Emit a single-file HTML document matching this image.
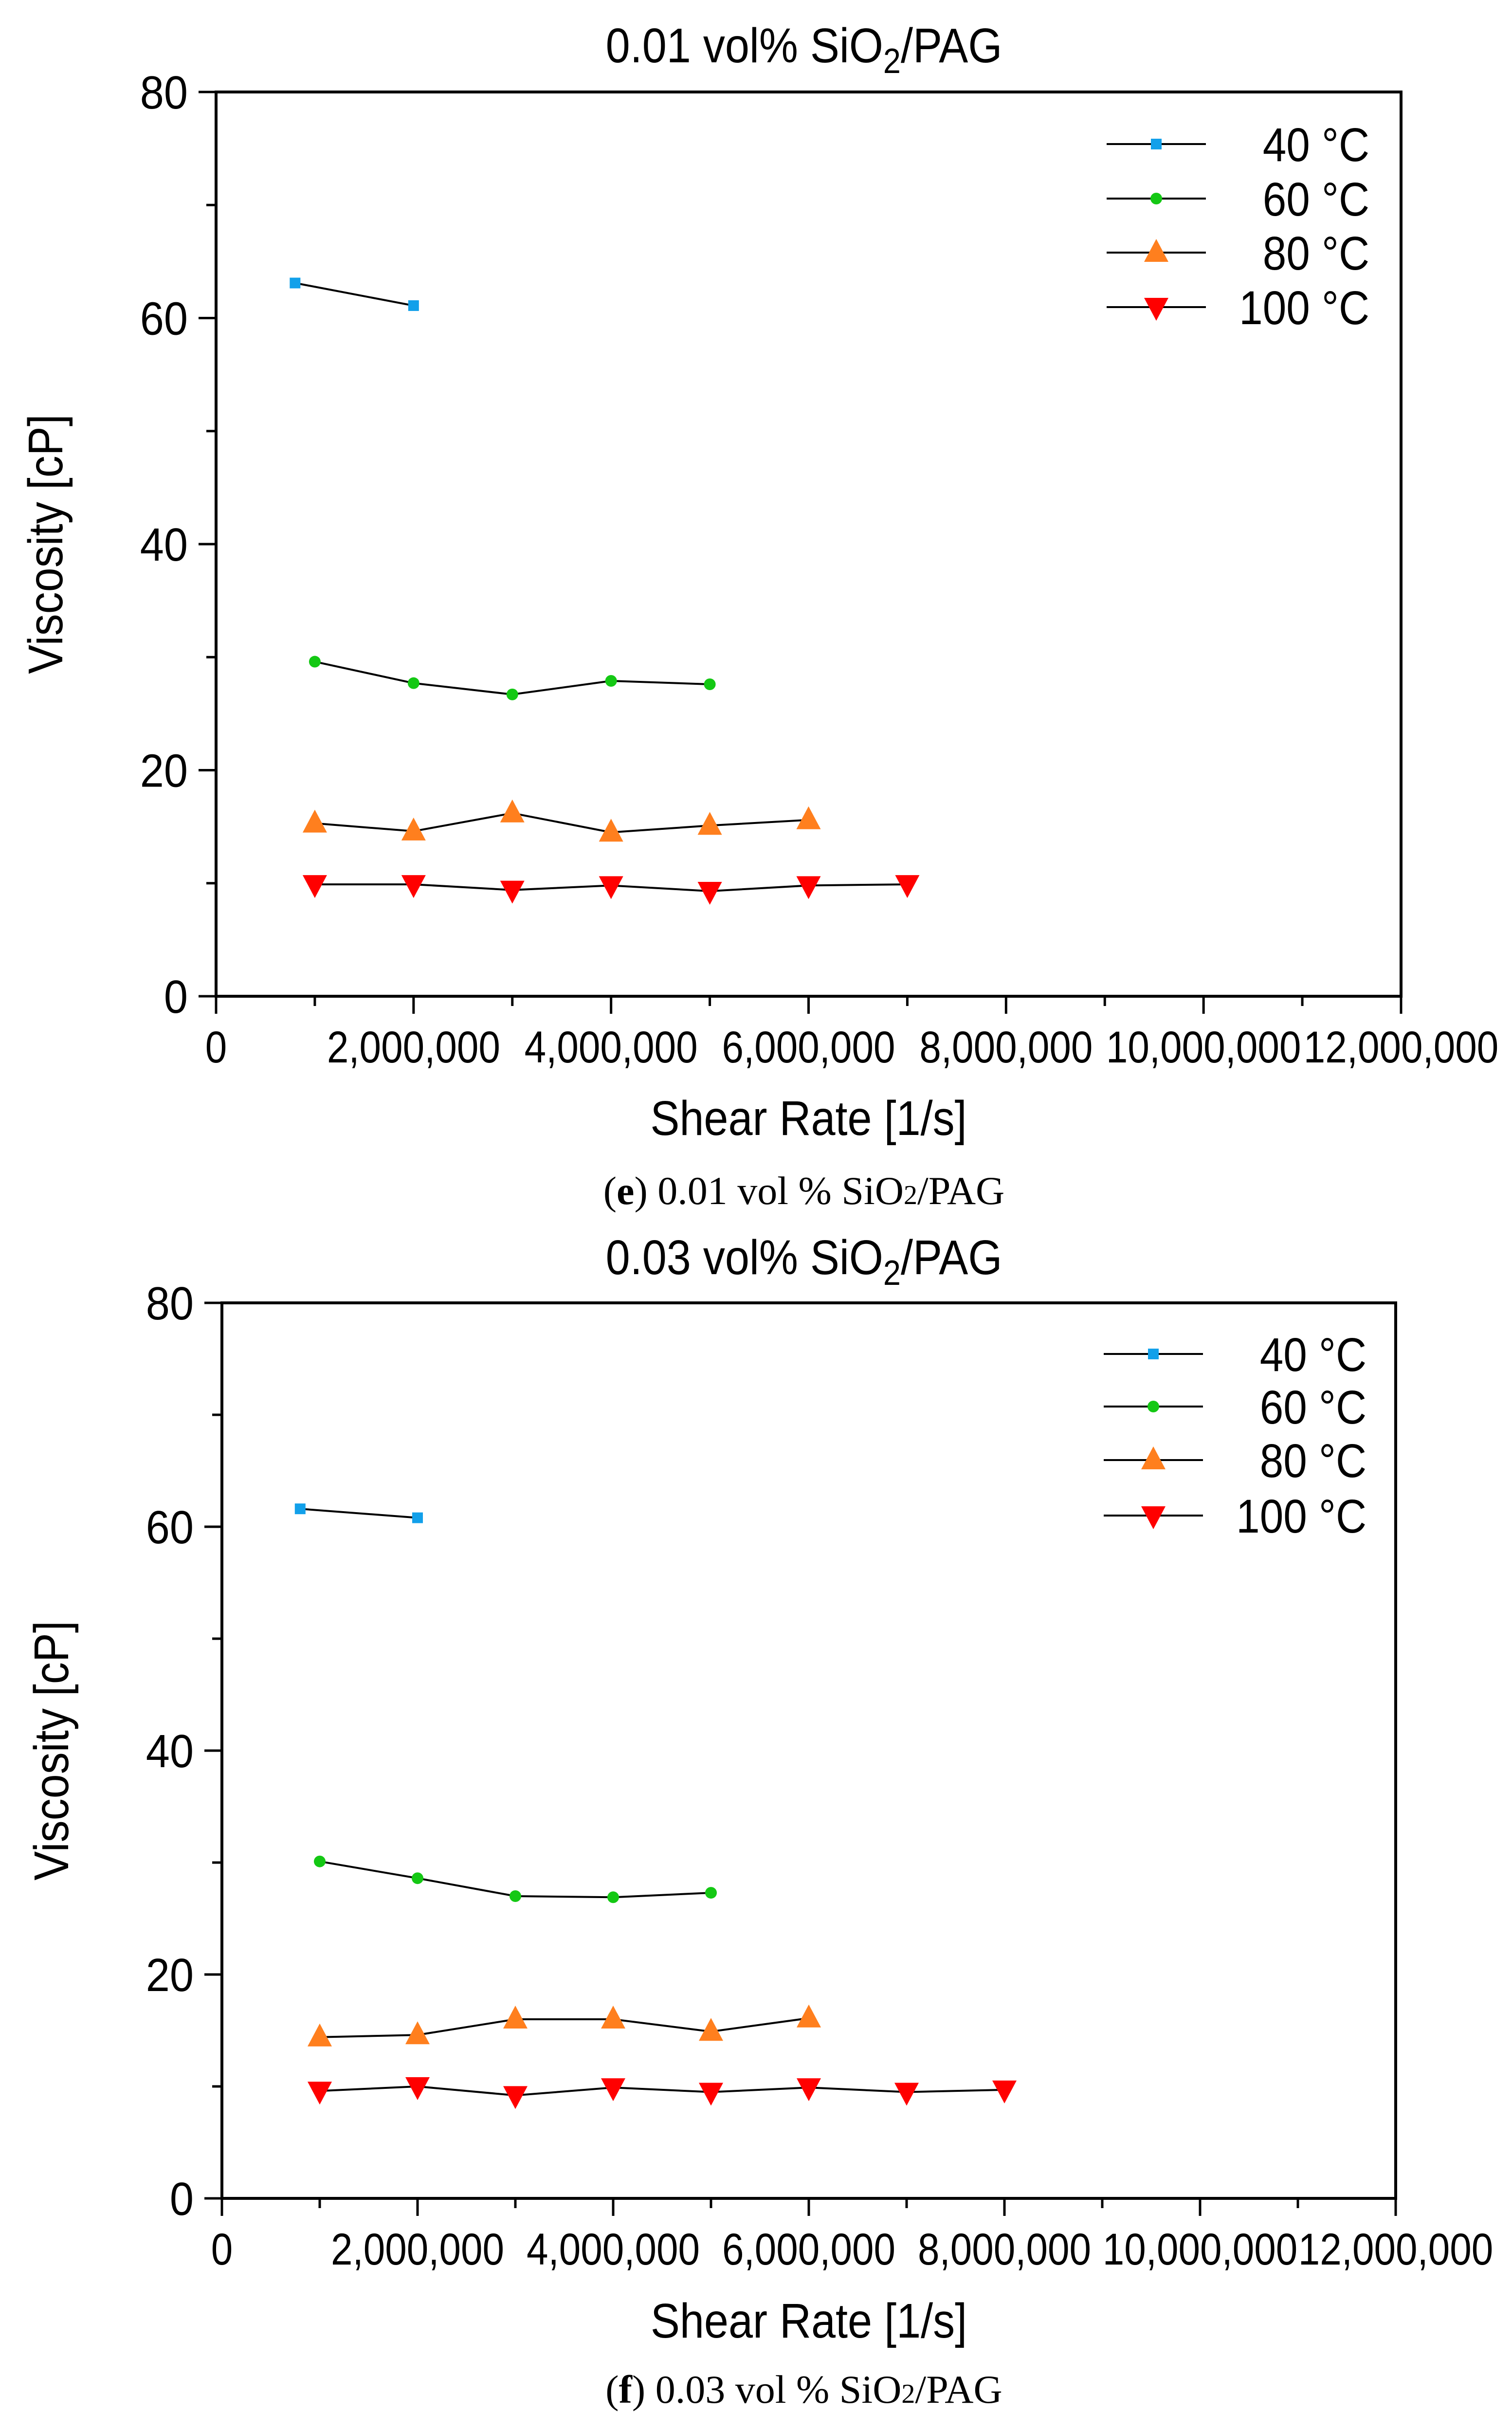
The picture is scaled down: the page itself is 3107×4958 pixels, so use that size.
<!DOCTYPE html>
<html><head><meta charset="utf-8"><style>
html,body{margin:0;padding:0;background:#fff;}
svg{display:block;}
text{font-family:"Liberation Sans",sans-serif;fill:#000;}
</style></head><body>
<svg id="fig" width="3107" height="4958" viewBox="0 0 3107 4958" xmlns="http://www.w3.org/2000/svg"></svg>
<script>
// Chart (e) data: 0.01 vol% SiO2/PAG
const eX40 = [0.8, 2.0];
const eY40 = [63.1, 61.1];
const eX60 = [1, 2, 3, 4, 5];
const eY60 = [29.6, 27.7, 26.7, 27.9, 27.6];
const eX80 = [1, 2, 3, 4, 5, 6];
const eY80 = [15.3, 14.6, 16.2, 14.5, 15.1, 15.6];
const eX100 = [1, 2, 3, 4, 5, 6, 7];
const eY100 = [9.9, 9.9, 9.4, 9.8, 9.3, 9.8, 9.9];
// Chart (f) data: 0.03 vol% SiO2/PAG
const fX40 = [0.8, 2.0];
const fY40 = [61.6, 60.8];
const fX60 = [1, 2, 3, 4, 5];
const fY60 = [30.1, 28.6, 27.0, 26.9, 27.3];
const fX80 = [1, 2, 3, 4, 5, 6];
const fY80 = [14.4, 14.6, 16.0, 16.0, 14.9, 16.1];
const fX100 = [1, 2, 3, 4, 5, 6, 7, 8];
const fY100 = [9.6, 10.0, 9.2, 9.9, 9.5, 9.9, 9.5, 9.7];
// axis ticks
const yTicks = [0, 20, 40, 60, 80];
const xTicks = [0, 2, 4, 6, 8, 10, 12];
const xTickLabels = ["0", "2,000,000", "4,000,000", "6,000,000", "8,000,000", "10,000,000", "12,000,000"];
const seriesNames = ["40 °C", "60 °C", "80 °C", "100 °C"];

const NS = "http://www.w3.org/2000/svg";
const fig = document.getElementById("fig");
function mk(tag, attrs, parent) {
  const el = document.createElementNS(NS, tag);
  for (const k in attrs) el.setAttribute(k, attrs[k]);
  (parent || fig).appendChild(el);
  return el;
}
function txt(parent, x, y, s, size, anchor, sx) {
  const t = mk("text", {x: 0, y: 0, "font-size": size, "text-anchor": anchor || "middle",
    transform: "translate(" + x + "," + y + ") scale(" + (sx || 0.9) + ",1)"}, parent);
  t.textContent = s;
  return t;
}
function marker(g, kind, cx, cy) {
  let m;
  if (kind === 0) m = mk("rect", {x: cx - 11, y: cy - 11, width: 22, height: 22, fill: "#12a0ea"}, g);
  else if (kind === 1) m = mk("circle", {cx: cx, cy: cy, r: 12, fill: "#14c814"}, g);
  else if (kind === 2) m = mk("polygon", {points: (cx - 25) + "," + (cy + 19) + " " + (cx + 25) + "," + (cy + 19) + " " + cx + "," + (cy - 28), fill: "#ff7f1e"}, g);
  else m = mk("polygon", {points: (cx - 25) + "," + (cy - 19) + " " + (cx + 25) + "," + (cy - 19) + " " + cx + "," + (cy + 28), fill: "#ff0000"}, g);
  return m;
}

function chart(cfg) {
  const g = mk("g", {});
  
  
  const L = cfg.L, R = cfg.R, T = cfg.T, B = cfg.B;
  const sx = v => L + (v / 12) * (R - L);
  const sy = v => B - (v / 80) * (B - T);
  const fr = mk("rect", {x: L, y: T, width: R - L, height: B - T, fill: "none", stroke: "#000", "stroke-width": 6}, g);
  
  
  for (let v = 0; v <= 80; v += 10) {
    const major = v % 20 === 0;
    const tk = mk("line", {x1: L - (major ? 36 : 20), x2: L, y1: sy(v), y2: sy(v), stroke: "#000", "stroke-width": 5}, g);
    
    
  }
  yTicks.forEach(v => {
    const t = txt(g, L - 58, sy(v) + 34, String(v), 96, "end", 0.92);
    
    
  });
  for (let v = 0; v <= 12; v += 1) {
    const major = v % 2 === 0;
    const tk = mk("line", {x1: sx(v), x2: sx(v), y1: B, y2: B + (major ? 36 : 20), stroke: "#000", "stroke-width": 5}, g);
    
    
  }
  xTicks.forEach((v, i) => {
    const t = txt(g, sx(v), B + 136, xTickLabels[i], 92, "middle", 0.87);
    
    
  });
  const tt = mk("text", {x: 0, y: 0, "font-size": 100, "text-anchor": "middle", transform: "translate(1652," + cfg.titleY + ") scale(0.9,1)"}, g);
  
  
  tt.innerHTML = cfg.title + ' vol% SiO<tspan font-size="72" dy="22">2</tspan><tspan dy="-22">/PAG</tspan>';
  const xl = txt(g, (L + R) / 2, cfg.xLabelY, "Shear Rate [1/s]", 100, "middle", 0.9);
  
  
  const yl = mk("text", {x: 0, y: 0, "font-size": 100, "text-anchor": "middle",
    transform: "translate(" + cfg.yLabelX + "," + (T + B) / 2 + ") rotate(-90) scale(0.9,1)"}, g);
  yl.textContent = "Viscosity [cP]";
  
  
  const cap = mk("text", {x: 1652, y: cfg.capY, "font-size": 82, "text-anchor": "middle", style: "font-family:'Liberation Serif',serif"}, g);
  cap.innerHTML = '(<tspan font-weight="bold">' + cfg.letter + '</tspan>) ' + cfg.title + ' vol % SiO<tspan font-size="56">2</tspan>/PAG';
  
  
  cfg.series.forEach((s, k) => {
    const sg = mk("g", {}, g);
    
    
    const pts = s.x.map((xv, i) => sx(xv) + "," + sy(s.y[i])).join(" ");
    const ln = mk("polyline", {points: pts, fill: "none", stroke: "#000", "stroke-width": 4}, sg);
    
    
    s.x.forEach((xv, i) => {
      const m = marker(sg, k, sx(xv), sy(s.y[i]));
      
      
    });
    const ly = cfg.legY[k];
    const lg = mk("g", {}, g);
    
    
    mk("line", {x1: cfg.legX, x2: cfg.legX + 204, y1: ly, y2: ly, stroke: "#000", "stroke-width": 4}, lg);
    marker(lg, k, cfg.legX + 102, ly);
    txt(lg, cfg.legX + 540, ly + 35, seriesNames[k], 97, "end", 0.9);
  });
}

chart({name: "chart-e", L: 444, R: 2879, T: 189, B: 2047, title: "0.01", letter: "e",
  titleY: 128, xLabelY: 2332, yLabelX: 128, capY: 2474, legX: 2274, legY: [296, 408, 519, 631],
  series: [{x: eX40, y: eY40}, {x: eX60, y: eY60}, {x: eX80, y: eY80}, {x: eX100, y: eY100}]});
chart({name: "chart-f", L: 456, R: 2868, T: 2677, B: 4517, title: "0.03", letter: "f",
  titleY: 2618, xLabelY: 4803, yLabelX: 140, capY: 4937, legX: 2268, legY: [2782, 2890, 3000, 3114],
  series: [{x: fX40, y: fY40}, {x: fX60, y: fY60}, {x: fX80, y: fY80}, {x: fX100, y: fY100}]});
</script>
</body></html>
